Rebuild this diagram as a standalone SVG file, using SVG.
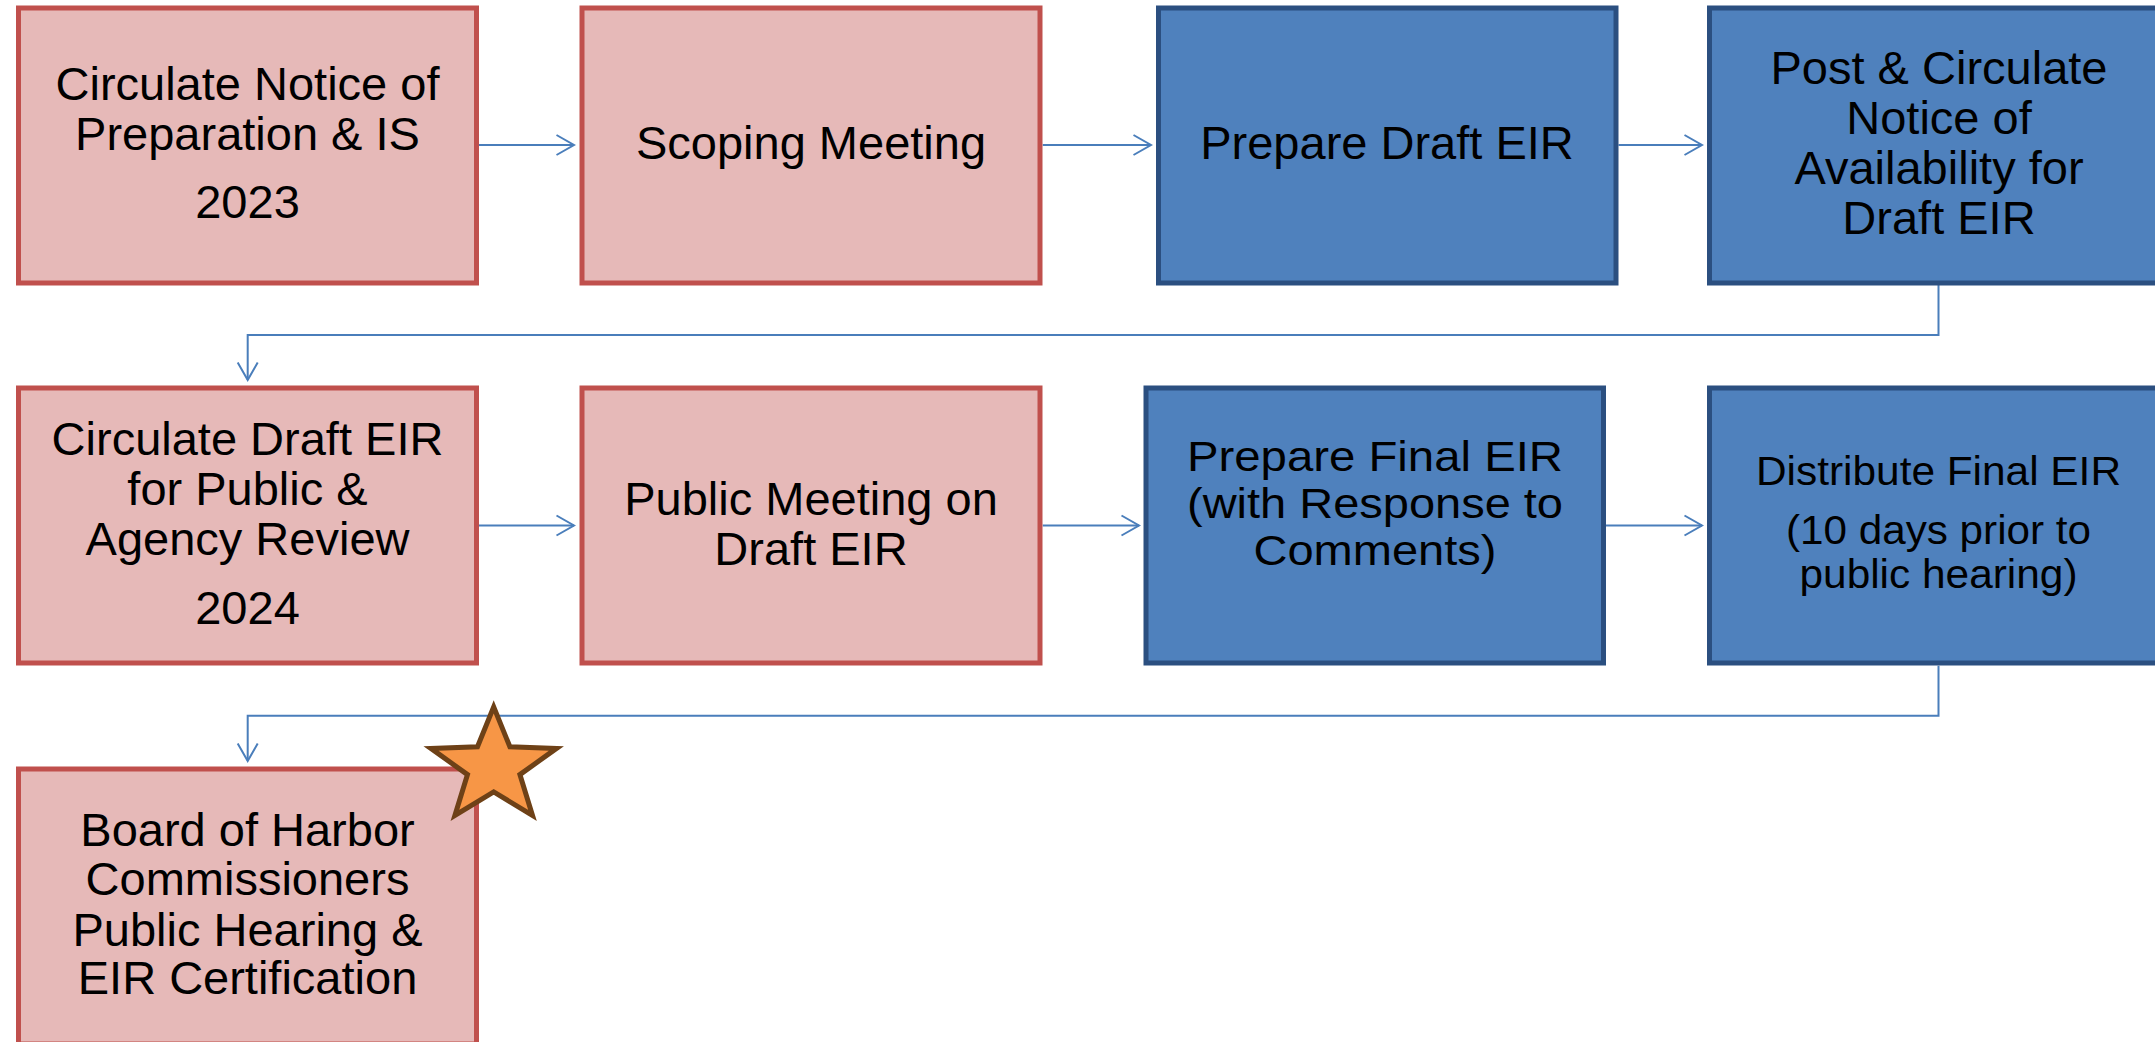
<svg xmlns="http://www.w3.org/2000/svg" width="2155" height="1042" viewBox="0 0 2155 1042">
<style>
  .pink { fill: #E6B9B8; stroke: #C0504D; stroke-width: 5; }
  .blue { fill: #4F81BD; stroke: #2B4F80; stroke-width: 5; }
  .t { font-family: "Liberation Sans", Arial, sans-serif; font-size: 47px; fill: #000; text-anchor: middle; }
  .tm { font-family: "Liberation Sans", Arial, sans-serif; font-size: 43px; fill: #000; text-anchor: middle; }
  .ts { font-family: "Liberation Sans", Arial, sans-serif; font-size: 40px; fill: #000; text-anchor: middle; }
  .conn { fill: none; stroke: #4A7EBB; stroke-width: 2; }
  .star { fill: #F79646; stroke: #6E4117; stroke-width: 5; stroke-linejoin: miter; }
</style>
<defs>
  <marker id="arrow" viewBox="-20 -12 22 24" refX="0" refY="0" markerWidth="22" markerHeight="24" markerUnits="userSpaceOnUse" orient="auto">
    <path d="M-17.5,-10 L0,0 L-17.5,10" fill="none" stroke="#4A7EBB" stroke-width="2"/>
  </marker>
</defs>
<rect width="2155" height="1042" fill="#FFFFFF"/>

<g id="connectors">
  <path class="conn" d="M479,145 H574" marker-end="url(#arrow)"/>
  <path class="conn" d="M1042.7,145 H1151" marker-end="url(#arrow)"/>
  <path class="conn" d="M1618.5,145 H1702" marker-end="url(#arrow)"/>
  <path class="conn" d="M1938.5,285 V335 H247.7 V380" marker-end="url(#arrow)"/>
  <path class="conn" d="M479,525.5 H574" marker-end="url(#arrow)"/>
  <path class="conn" d="M1042.7,525.5 H1139" marker-end="url(#arrow)"/>
  <path class="conn" d="M1606,525.5 H1702" marker-end="url(#arrow)"/>
  <path class="conn" d="M1938.5,665.7 V715.7 H247.7 V761" marker-end="url(#arrow)"/>
</g>

<g id="node1">
  <rect class="pink" x="18.5" y="8" width="458" height="275"/>
  <text class="t" x="247.5" y="100">Circulate Notice of</text>
  <text class="t" x="247.5" y="150">Preparation &amp; IS</text>
  <text class="t" x="247.5" y="218">2023</text>
</g>
<g id="node2">
  <rect class="pink" x="582" y="8" width="458" height="275"/>
  <text class="t" x="811" y="159">Scoping Meeting</text>
</g>
<g id="node3">
  <rect class="blue" x="1158.5" y="8" width="457.5" height="275"/>
  <text class="t" x="1387" y="159">Prepare Draft EIR</text>
</g>
<g id="node4">
  <rect class="blue" x="1709.5" y="8" width="458" height="275"/>
  <text class="t" x="1939" y="83.5">Post &amp; Circulate</text>
  <text class="t" x="1939" y="133.5">Notice of</text>
  <text class="t" x="1939" y="184">Availability for</text>
  <text class="t" x="1939" y="234">Draft EIR</text>
</g>
<g id="node5">
  <rect class="pink" x="18.5" y="388" width="458" height="275"/>
  <text class="t" x="247.5" y="455">Circulate Draft EIR</text>
  <text class="t" x="247.5" y="505">for Public &amp;</text>
  <text class="t" x="247.5" y="555">Agency Review</text>
  <text class="t" x="247.5" y="623.5">2024</text>
</g>
<g id="node6">
  <rect class="pink" x="582" y="388" width="458" height="275"/>
  <text class="t" x="811" y="515">Public Meeting on</text>
  <text class="t" x="811" y="564.5">Draft EIR</text>
</g>
<g id="node7">
  <rect class="blue" x="1146" y="388" width="457.5" height="275"/>
  <text class="tm" x="1375" y="471" textLength="376" lengthAdjust="spacingAndGlyphs">Prepare Final EIR</text>
  <text class="tm" x="1375" y="518" textLength="376" lengthAdjust="spacingAndGlyphs">(with Response to</text>
  <text class="tm" x="1375" y="565" textLength="243" lengthAdjust="spacingAndGlyphs">Comments)</text>
</g>
<g id="node8">
  <rect class="blue" x="1709.5" y="388" width="458" height="275"/>
  <text class="ts" x="1938.5" y="485" textLength="365" lengthAdjust="spacingAndGlyphs">Distribute Final EIR</text>
  <text class="ts" x="1938.5" y="543.5" textLength="305" lengthAdjust="spacingAndGlyphs">(10 days prior to</text>
  <text class="ts" x="1938.5" y="588" textLength="278" lengthAdjust="spacingAndGlyphs">public hearing)</text>
</g>
<g id="node9">
  <rect class="pink" x="18.5" y="769" width="458" height="275"/>
  <text class="t" x="247.5" y="845.7">Board of Harbor</text>
  <text class="t" x="247.5" y="895">Commissioners</text>
  <text class="t" x="247.5" y="945.7">Public Hearing &amp;</text>
  <text class="t" x="247.5" y="994">EIR Certification</text>
</g>
<g id="star">
  <polygon class="star" points="493.7,706.9 509.9,746.8 556.5,748.4 519.9,774.6 532.5,815.4 493.7,791.9 454.9,815.4 467.5,774.6 430.9,748.4 477.5,746.8"/>
</g>
</svg>
